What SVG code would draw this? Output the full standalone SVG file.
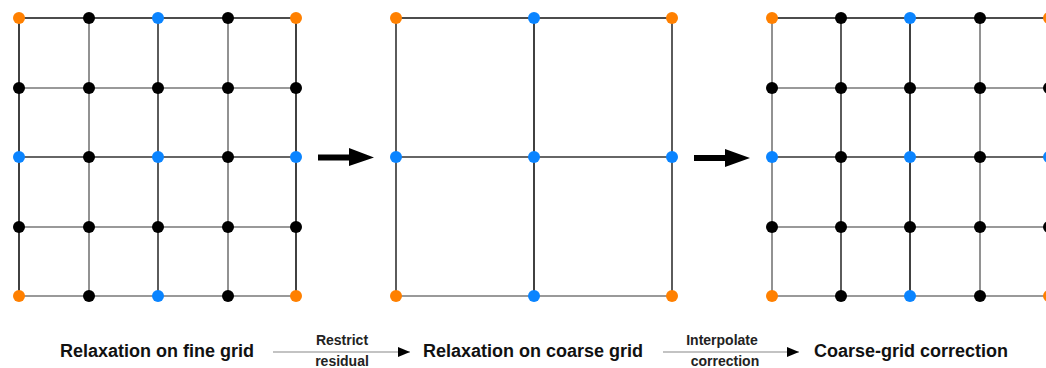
<svg xmlns="http://www.w3.org/2000/svg" width="1046" height="368" viewBox="0 0 1046 368">
<defs>
<style>
.k{stroke:#111;stroke-width:1.6;fill:none}
.g{stroke:#777;stroke-width:1.6;fill:none}
.d{stroke:#333;stroke-width:1.6;fill:none}
.o{fill:#ff8000}
.b{fill:#0a84ff}
.n{fill:#000}
.lbl{font-family:"Liberation Sans",Arial,sans-serif;font-weight:bold;font-size:18px;fill:#111;text-anchor:middle}
.sm{font-family:"Liberation Sans",Arial,sans-serif;font-weight:bold;font-size:14px;fill:#222;text-anchor:middle}
</style>
<marker id="ah" viewBox="0 0 12 10" refX="12" refY="5" markerWidth="12" markerHeight="10" markerUnits="userSpaceOnUse" orient="auto"><path d="M0,0 L12,5 L0,10 Z" fill="#000"/></marker>
</defs>
<g id="fine-grid">
<path class="k" d="M19,18H296"/>
<path class="g" d="M19,88H296"/>
<path class="d" d="M19,157H296"/>
<path class="g" d="M19,227H296"/>
<path class="g" d="M19,296H296"/>
<path class="k" d="M19,18V296"/>
<path class="g" d="M89,18V296"/>
<path class="d" d="M158,18V296"/>
<path class="g" d="M228,18V296"/>
<path class="k" d="M296,18V296"/>
<circle class="o" cx="19" cy="18" r="6"/><circle class="n" cx="89" cy="18" r="6"/><circle class="b" cx="158" cy="18" r="6"/><circle class="n" cx="228" cy="18" r="6"/><circle class="o" cx="296" cy="18" r="6"/>
<circle class="n" cx="19" cy="88" r="6"/><circle class="n" cx="89" cy="88" r="6"/><circle class="n" cx="158" cy="88" r="6"/><circle class="n" cx="228" cy="88" r="6"/><circle class="n" cx="296" cy="88" r="6"/>
<circle class="b" cx="19" cy="157" r="6"/><circle class="n" cx="89" cy="157" r="6"/><circle class="b" cx="158" cy="157" r="6"/><circle class="n" cx="228" cy="157" r="6"/><circle class="b" cx="296" cy="157" r="6"/>
<circle class="n" cx="19" cy="227" r="6"/><circle class="n" cx="89" cy="227" r="6"/><circle class="n" cx="158" cy="227" r="6"/><circle class="n" cx="228" cy="227" r="6"/><circle class="n" cx="296" cy="227" r="6"/>
<circle class="o" cx="19" cy="296" r="6"/><circle class="n" cx="89" cy="296" r="6"/><circle class="b" cx="158" cy="296" r="6"/><circle class="n" cx="228" cy="296" r="6"/><circle class="o" cx="296" cy="296" r="6"/>
</g>
<g id="coarse-grid">
<path class="k" d="M396,18H672"/>
<path class="d" d="M396,157H672"/>
<path class="g" d="M396,296H672"/>
<path class="d" d="M396,18V296"/>
<path class="k" d="M534,18V296"/>
<path class="d" d="M672,18V296"/>
<circle class="o" cx="396" cy="18" r="6"/><circle class="b" cx="534" cy="18" r="6"/><circle class="o" cx="672" cy="18" r="6"/>
<circle class="b" cx="396" cy="157" r="6"/><circle class="b" cx="534" cy="157" r="6"/><circle class="b" cx="672" cy="157" r="6"/>
<circle class="o" cx="396" cy="296" r="6"/><circle class="b" cx="534" cy="296" r="6"/><circle class="o" cx="672" cy="296" r="6"/>
</g>
<g id="corrected-grid">
<path class="k" d="M772,18H1049"/>
<path class="g" d="M772,88H1049"/>
<path class="d" d="M772,157H1049"/>
<path class="g" d="M772,227H1049"/>
<path class="g" d="M772,296H1049"/>
<path class="g" d="M772,18V296"/>
<path class="d" d="M841,18V296"/>
<path class="k" d="M910,18V296"/>
<path class="g" d="M980,18V296"/>
<path class="k" d="M1049,18V296"/>
<circle class="o" cx="772" cy="18" r="6"/><circle class="n" cx="841" cy="18" r="6"/><circle class="b" cx="910" cy="18" r="6"/><circle class="n" cx="980" cy="18" r="6"/><circle class="o" cx="1049" cy="18" r="6"/>
<circle class="n" cx="772" cy="88" r="6"/><circle class="n" cx="841" cy="88" r="6"/><circle class="n" cx="910" cy="88" r="6"/><circle class="n" cx="980" cy="88" r="6"/><circle class="n" cx="1049" cy="88" r="6"/>
<circle class="b" cx="772" cy="157" r="6"/><circle class="n" cx="841" cy="157" r="6"/><circle class="b" cx="910" cy="157" r="6"/><circle class="n" cx="980" cy="157" r="6"/><circle class="b" cx="1049" cy="157" r="6"/>
<circle class="n" cx="772" cy="227" r="6"/><circle class="n" cx="841" cy="227" r="6"/><circle class="n" cx="910" cy="227" r="6"/><circle class="n" cx="980" cy="227" r="6"/><circle class="n" cx="1049" cy="227" r="6"/>
<circle class="o" cx="772" cy="296" r="6"/><circle class="n" cx="841" cy="296" r="6"/><circle class="b" cx="910" cy="296" r="6"/><circle class="n" cx="980" cy="296" r="6"/><circle class="o" cx="1049" cy="296" r="6"/>
</g>
<g id="connectors">
<path d="M318,154.5H349V148L374,157.5L349,166V160.5H318Z" fill="#000"/>
<path d="M694,155H725V149L750,158L725,167V161H694Z" fill="#000"/>
<path d="M273,352H410" stroke="#888" stroke-width="1.2" marker-end="url(#ah)"/>
<path d="M663,352H799" stroke="#888" stroke-width="1.2" marker-end="url(#ah)"/>
</g>
<g id="labels">
<text class="lbl" x="157" y="357">Relaxation on fine grid</text>
<text class="lbl" x="533" y="357">Relaxation on coarse grid</text>
<text class="lbl" x="911" y="357">Coarse-grid correction</text>
<text class="sm" x="342" y="345">Restrict</text>
<text class="sm" x="342" y="366">residual</text>
<text class="sm" x="722" y="345">Interpolate</text>
<text class="sm" x="725" y="366">correction</text>
</g>
</svg>
